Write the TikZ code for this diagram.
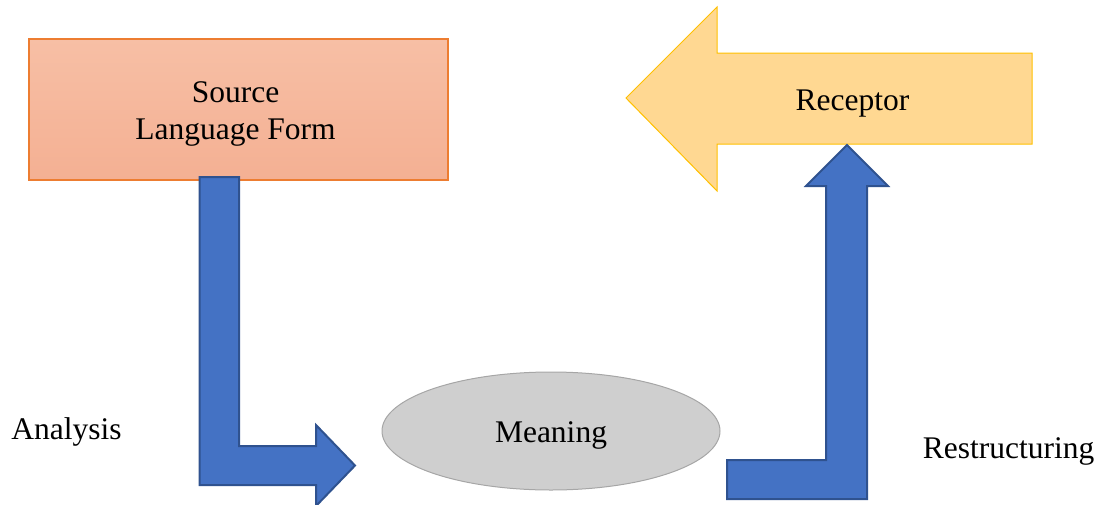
\documentclass[tikz,border=0pt]{standalone}
\usepackage{fontspec}
\setmainfont{Liberation Serif}
\usetikzlibrary{shapes.geometric}
\definecolor{blueFill}{HTML}{4472C4}
\definecolor{blueLine}{HTML}{2F528F}
\definecolor{srcTop}{HTML}{F7BFA5}
\definecolor{srcBot}{HTML}{F4B093}
\definecolor{srcLine}{HTML}{ED7D31}
\definecolor{recFill}{HTML}{FFD892}
\definecolor{recLine}{HTML}{FFC000}
\definecolor{meanFill}{HTML}{CFCFCF}
\definecolor{meanLine}{HTML}{A6A6A6}
\tikzset{
  bigtext/.style={font=\fontsize{31.5}{37}\selectfont, inner sep=0pt},
  srcbox/.style={draw=srcLine, line width=2pt, top color=srcTop, bottom color=srcBot, minimum width=419pt, minimum height=141pt, inner sep=0pt},
  meanell/.style={ellipse, draw=meanLine, line width=1pt, fill=meanFill, minimum width=338pt, minimum height=118pt, inner sep=0pt},
  recarrow/.style={draw=recLine, line width=1pt, fill=recFill, line join=miter},
  bluearrow/.style={draw=blueLine, line width=2pt, fill=blueFill, line join=miter}
}
\begin{document}
\begin{tikzpicture}[x=1pt, y=-1pt]
\useasboundingbox (0,0) rectangle (1101,504);
% Source box
\node[srcbox] (src) at (238.5,109.5) {};
\node[bigtext, align=center] (srctext) at (235.5,114.3) {Source\\Language Form};
% Receptor arrow
\draw[recarrow] (626,98) -- (717,7) -- (717,53) -- (1032,53) -- (1032,144) -- (717,144) -- (717,191) -- cycle;
\node[bigtext, anchor=base] (rec) at (852.5,110) {Receptor};
% Meaning ellipse
\node[meanell] (mean) at (551,431) {};
\node[bigtext, anchor=base] (meantext) at (551,442) {Meaning};
% Analysis arrow
\draw[bluearrow] (199.5,177) -- (239,177) -- (239,446) -- (316,446) -- (316,425) -- (355,465.5) -- (316,506) -- (316,485) -- (199.5,485) -- cycle;
% Restructuring arrow
\draw[bluearrow] (727,460) -- (826,460) -- (826,186) -- (806,186) -- (847,145) -- (888,186) -- (867,186) -- (867,499) -- (727,499) -- cycle;
% Labels
\node[bigtext, anchor=base] (ana) at (66.5,439.5) {Analysis};
\node[bigtext, anchor=base] (res) at (1008.5,458) {Restructuring};
\end{tikzpicture}
\end{document}
